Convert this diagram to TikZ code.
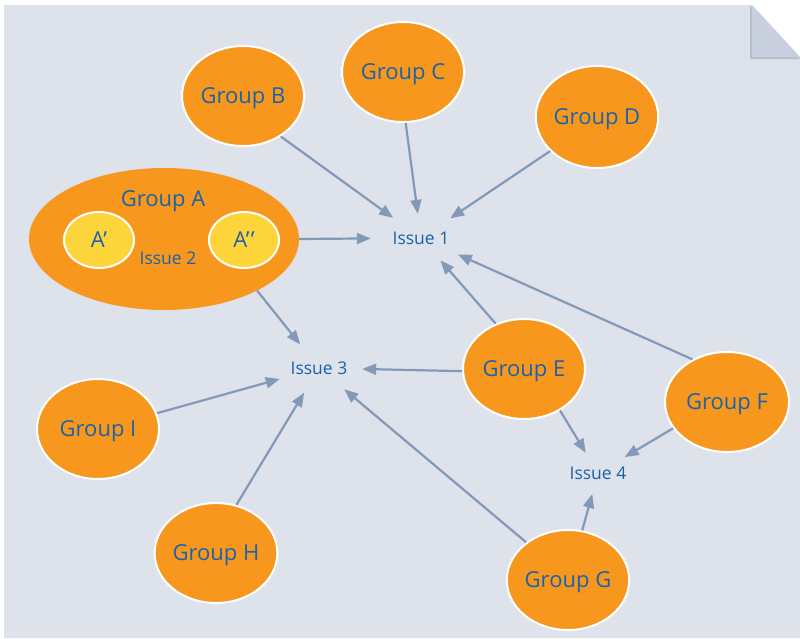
\documentclass[tikz,border=0pt]{standalone}
\usepackage{fontspec}
\setmainfont{Open Sans}
\usetikzlibrary{shapes.geometric,arrows.meta}
\definecolor{pagebg}{HTML}{DEE2EA}
\definecolor{foldc}{HTML}{C8D0DE}
\definecolor{orng}{HTML}{F7971E}
\definecolor{yel}{HTML}{FDD43A}
\definecolor{txtb}{HTML}{1A63AA}
\definecolor{arr}{HTML}{8399B8}
\tikzset{
 grp/.style={ellipse, fill=orng, draw=white, line width=2pt, inner sep=0pt, text depth=0pt,
   minimum width=122pt, minimum height=100pt, text=txtb, font=\fontsize{22}{25}\selectfont},
 sub/.style={ellipse, fill=yel, draw=white, line width=2pt, inner sep=0pt, text depth=0pt,
   minimum width=70pt, minimum height=56pt, text=txtb, font=\fontsize{22}{25}\selectfont},
 iss/.style={ellipse, inner sep=0pt, text depth=0pt, text=txtb, font=\fontsize{17.5}{20}\selectfont},
 lbl/.style={inner sep=0pt, text depth=0pt, text=txtb},
 link/.style={draw=arr, line width=2.2pt, -{Triangle[length=14pt,width=11pt]}},
}
\begin{document}
\begin{tikzpicture}[x=1pt,y=-1pt]
\useasboundingbox (0,0) rectangle (800,638);
\fill[pagebg] (4,5) -- (752,5) -- (800,57) -- (800,638) -- (4,638) -- cycle;
\fill[foldc!80!black!40!foldc] (750,5) -- (750,59) -- (800,59) -- cycle;
\fill[foldc] (752,5) -- (752,57) -- (800,57) -- cycle;

% Group A
\node[ellipse, fill=orng, inner sep=0pt, minimum width=270pt, minimum height=142pt] (A) at (164,239) {};
\node[lbl, font=\fontsize{22}{25}\selectfont] (Alab) at (163,199) {Group A};
\node[lbl, font=\fontsize{17.5}{20}\selectfont] (I2) at (168,258) {Issue 2};
\node[sub] (A1) at (99,240) {A’};
\node[sub] (A2) at (244,240) {A’\kern1.2pt’};

% other groups
\node[grp] (B) at (243,96) {Group B};
\node[grp] (C) at (403,72) {Group C};
\node[grp, minimum height=102pt] (D) at (597,117) {Group D};
\node[grp] (E) at (524,369) {Group E};
\node[grp, minimum width=124pt] (F) at (727,402) {Group F};
\node[grp] (G) at (568,580) {Group G};
\node[grp] (H) at (216,553) {Group H};
\node[grp] (I) at (98,429) {Group I};

% issues
\node[iss, minimum width=100pt, minimum height=48pt] (I1) at (421,238) {Issue 1};
\node[iss, minimum width=86pt, minimum height=52pt] (I3) at (319,368) {Issue 3};
\node[iss, minimum width=80pt, minimum height=42pt] (I4) at (598,473) {Issue 4};

% connectors
\draw[link] (B.-47) -- (I1);
\draw[link] (C.-87) -- (I1);
\draw[link] (D.216) -- (I1);
\draw[link] (A.0) -- (I1);
\draw[link] (E.122) -- (I1);
\draw[link] (F.129) -- (I1);
\draw[link] (A.-29) -- (I3);
\draw[link] (E.182) -- (I3);
\draw[link] (I.15) -- (I3);
\draw[link] (H.67) -- (I3);
\draw[link] (G.138) -- (I3);
\draw[link] (E.-49) -- (I4);
\draw[link] (F.206) -- (I4);
\draw[link] (G.74) -- (I4);
\end{tikzpicture}
\end{document}
